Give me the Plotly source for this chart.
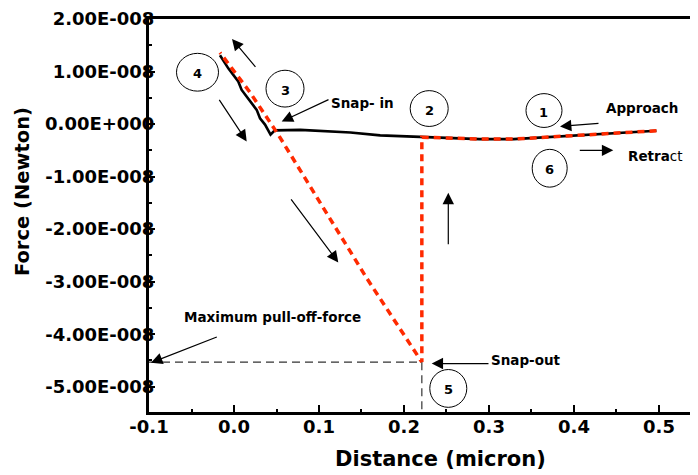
import plotly.graph_objects as go

# ---------------- data (force values in units of 1e-8 N) ----------------
approach_distance = [0.497, 0.446, 0.407, 0.368, 0.329, 0.289, 0.250, 0.2227, 0.172,
                     0.137, 0.078, 0.048, 0.043, 0.0365, 0.0306, 0.0267, 0.0188,
                     0.009, 0.005, -0.0067, -0.0165]
approach_force = [-0.127, -0.172, -0.216, -0.254, -0.286, -0.286, -0.267, -0.254, -0.216,
                  -0.16, -0.11, -0.12, -0.20, -0.01, 0.11, 0.27, 0.43,
                  0.65, 0.81, 1.06, 1.31]

retract_distance = [0.497, 0.446, 0.407, 0.368, 0.329, 0.289, 0.250, 0.221, 0.221,
                    0.156, 0.087, 0.052, 0.019, -0.0165]
retract_force = [-0.127, -0.172, -0.216, -0.254, -0.286, -0.286, -0.267, -0.25, -4.53,
                 -2.93, -1.12, -0.20, 0.60, 1.36]

snap_out_distance = 0.221
pull_off_force = -4.53

x_tick_values = [-0.1, 0.0, 0.1, 0.2, 0.3, 0.4, 0.5]
x_tick_labels = ["-0.1", "0.0", "0.1", "0.2", "0.3", "0.4", "0.5"]
y_tick_values = [2, 1, 0, -1, -2, -3, -4, -5]
y_tick_labels = ["2.00E-008", "1.00E-008", "0.00E+000", "-1.00E-008", "-2.00E-008",
                 "-3.00E-008", "-4.00E-008", "-5.00E-008"]

SCALE = 1e-8
X_RANGE = [-0.1, 0.5459]
Y_RANGE = [-5.481, 2.0]

FONT = "DejaVu Sans"
RED = "#ff2a00"

# the page body has an 8px margin; the figure is sized so the plot area
# lands at the same spot as in the reference (left 149, top 17, bottom 412)
PAGE_OFF = 8
PLOT_L, PLOT_T, PLOT_R, PLOT_B = 149, 17, 698, 412


def dx(px):
    return -0.1 + (px - PLOT_L) / 850.0


def dy(py):
    return (122.6 - py) / 52.8 * SCALE


def paper_x(px):
    return (px - PLOT_L) / (PLOT_R - PLOT_L)


def paper_y(py):
    return (PLOT_B - py) / (PLOT_B - PLOT_T)


fig = go.Figure()

fig.add_trace(go.Scatter(
    x=approach_distance, y=[v * SCALE for v in approach_force],
    mode="lines", line=dict(color="black", width=2.6),
    showlegend=False, hoverinfo="skip"))

fig.add_trace(go.Scatter(
    x=retract_distance, y=[v * SCALE for v in retract_force],
    mode="lines", line=dict(color=RED, width=3.5, dash="7px,5px"),
    showlegend=False, hoverinfo="skip"))

fig.add_trace(go.Scatter(
    x=[X_RANGE[0], snap_out_distance, snap_out_distance],
    y=[pull_off_force * SCALE, pull_off_force * SCALE, Y_RANGE[0] * SCALE],
    mode="lines", line=dict(color="#333333", width=1.2, dash="8px,5px"),
    showlegend=False, hoverinfo="skip"))

# circles with step numbers: (center x px, center y px, width px, height px, label)
circles = [
    (197.5, 70.5, 42, 38, "4"),
    (285, 87, 38, 37, "3"),
    (429.2, 107, 38, 36, "2"),
    (544, 109, 36, 34, "1"),
    (549.7, 167, 35, 38, "6"),
    (448.3, 388.3, 37, 38, "5"),
]
for cx, cy, w, h, lab in circles:
    fig.add_shape(type="circle", xref="x", yref="y",
                  x0=dx(cx - w / 2), x1=dx(cx + w / 2),
                  y0=dy(cy + h / 2), y1=dy(cy - h / 2),
                  line=dict(color="black", width=1))
    fig.add_annotation(x=dx(cx), y=dy(cy + 1.5), text=lab, showarrow=False,
                       font=dict(family=FONT, size=13, color="black", weight="bold"))

# arrows: (tail px x, tail px y, tip px x, tip px y)
arrows = [
    (256.7, 66.7, 232, 37),
    (218.3, 96.7, 246.7, 140),
    (330, 97.3, 281.7, 120),
    (290, 196.7, 338.3, 261.7),
    (448.3, 245, 448.3, 191.7),
    (600, 121.7, 560, 125),
    (578.3, 149, 613.3, 149),
    (490, 363.3, 431.7, 363.3),
    (218.3, 336, 151, 362.5),
]
for tx, ty, hx, hy in arrows:
    fig.add_annotation(x=dx(hx), y=dy(hy), ax=dx(tx), ay=dy(ty),
                       xref="x", yref="y", axref="x", ayref="y",
                       text="", showarrow=True, arrowhead=2, arrowsize=1.9,
                       arrowwidth=1.2, arrowcolor="black", standoff=0)

# text labels: (left px x, center px y, text)
labels = [
    (329, 101.7, "Snap- in"),
    (604, 106.7, "Approach"),
    (626, 154.3, "<b>Retra</b>ct"),
    (489.3, 359.3, "Snap-out"),
    (181.7, 316.7, "Maximum pull-off-force"),
]
for lx, ly, txt in labels:
    bold = "bold" if not txt.startswith("<b>") else "normal"
    fig.add_annotation(x=dx(lx), y=dy(ly), text=txt, showarrow=False,
                       xanchor="left", yanchor="middle",
                       font=dict(family=FONT, size=13.5, color="black", weight=bold))

# axis titles
fig.add_annotation(xref="paper", yref="paper", x=paper_x(440), y=paper_y(459.5),
                   text="Distance (micron)", showarrow=False,
                   xanchor="center", yanchor="middle",
                   font=dict(family=FONT, size=21, color="black", weight="bold"))
fig.add_annotation(xref="paper", yref="paper", x=paper_x(22), y=paper_y(191),
                   text="Force (Newton)", showarrow=False, textangle=-90,
                   xanchor="center", yanchor="middle",
                   font=dict(family=FONT, size=19.5, color="black", weight="bold"))

tick_font = dict(family=FONT, size=18, color="black", weight="bold")

fig.update_layout(
    width=698 - PAGE_OFF, height=475 - PAGE_OFF,
    margin=dict(l=PLOT_L - PAGE_OFF, r=0, t=PLOT_T - PAGE_OFF, b=475 - PLOT_B),
    paper_bgcolor="white", plot_bgcolor="white",
    showlegend=False,
    xaxis=dict(
        range=X_RANGE, showgrid=False, zeroline=False,
        showline=True, linecolor="black", linewidth=3, mirror=True,
        ticks="inside", ticklen=7, tickwidth=2, tickcolor="black",
        tickvals=x_tick_values, ticktext=x_tick_labels, tickfont=tick_font,
        ticklabelstandoff=-4, ticklabeloverflow="allow",
        minor=dict(ticks="inside", ticklen=3, tickwidth=1.5, tickcolor="black",
                   tickmode="linear", tick0=-0.1, dtick=0.05, showgrid=False),
    ),
    yaxis=dict(
        range=[v * SCALE for v in Y_RANGE], showgrid=False, zeroline=False,
        showline=True, linecolor="black", linewidth=3,
        ticks="inside", ticklen=6, tickwidth=2, tickcolor="black",
        tickvals=[v * SCALE for v in y_tick_values], ticktext=y_tick_labels,
        tickfont=tick_font, ticklabelstandoff=-12, ticklabeloverflow="allow",
        minor=dict(ticks="inside", ticklen=3, tickwidth=1.5, tickcolor="black",
                   tickmode="linear", tick0=0, dtick=0.5 * SCALE, showgrid=False),
    ),
)

fig.write_html("out.html")
